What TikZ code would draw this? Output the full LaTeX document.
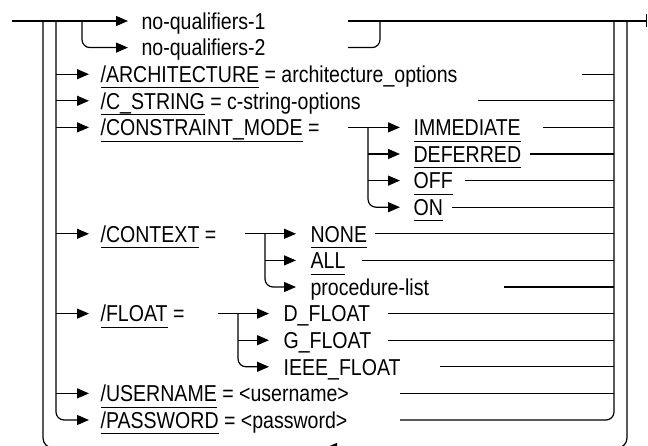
\documentclass[tikz,border=0pt]{standalone}
\usepackage{fontspec}
\setmainfont{Liberation Sans}[FakeStretch=0.85]
\usetikzlibrary{arrows.meta}
\newcommand{\kw}[1]{\sbox0{#1}\rlap{\rule[-6pt]{\wd0}{1pt}}\box0\relax}
\tikzset{
	opt/.style={anchor=west, inner sep=0pt, text height=16.5pt, text depth=0pt, font=\fontsize{23}{27}\selectfont},
}
\begin{document}
\begin{tikzpicture}[x=1pt, y=-1pt, line width=1.2pt, >={Triangle[length=12pt,width=10pt]}]
				\clip (0,0) rectangle (648,446);
				\coordinate (li) at (56,21);
				\coordinate (ri) at (614,21);
				% the qualifiers
				\node[opt] (nqa) at (141,21) {no-qualifiers-1};
				\node[opt] (nqb) at (141,47.6) {no-qualifiers-2};
				\node[opt] (arch) at (100,74.2) {\kw{/ARCHITECTURE} = architecture\_options};
				\node[opt] (cstr) at (100,100.8) {\kw{/C\_STRING} = c-string-options};
				\node[opt] (cmode) at (100,127.4) {\kw{/CONSTRAINT\_MODE} =};
				\node[opt] (imm) at (413,127.4) {\kw{IMMEDIATE}};
				\node[opt] (defr) at (413,154) {\kw{DEFERRED}};
				\node[opt] (off) at (413,180.6) {\kw{OFF}};
				\node[opt] (on) at (413,207.2) {\kw{ON}};
				\node[opt] (ctx) at (100,233.8) {\kw{/CONTEXT} =};
				\node[opt] (none) at (310,233.8) {\kw{NONE}};
				\node[opt] (all) at (310,260.4) {\kw{ALL}};
				\node[opt] (proc) at (310,287) {procedure-list};
				\node[opt] (flt) at (100,313.6) {\kw{/FLOAT} =};
				\node[opt] (dflt) at (283,313.6) {D\_FLOAT};
				\node[opt] (gflt) at (283,340.2) {G\_FLOAT};
				\node[opt] (ieee) at (283,366.8) {IEEE\_FLOAT};
				\node[opt] (user) at (100,393.4) {\kw{/USERNAME} = <username>};
				\node[opt] (pass) at (100,420) {\kw{/PASSWORD} = <password>};
				% main line and loops
				\draw[->] (12,21) -- ([xshift=-13pt]nqa.west);
				\draw[-{Bar[width=13pt]}] (348,21) -- (647,21);
				\draw[->, rounded corners=8pt] (82,21) |- ([xshift=-13pt]nqb.west);
				\draw[rounded corners=8pt] (348,47.6) -| (380,21);
				\draw[rounded corners=10pt] (43,21) |- (627,448) -- (627,21);
				\draw[->] (350,448) -- (325,448);
				\draw[->, rounded corners=8pt] (li) |- ([xshift=-11pt]pass.west);
				\draw[rounded corners=8pt] (400,420) -| (ri);
				\foreach \n in {arch,cstr,cmode,ctx,flt,user}
					\draw[->] (li |- \n.west) -- ([xshift=-11pt]\n.west);
				\foreach \n/\x in {arch/582,cstr/478,imm/543,defr/530,off/465,on/452,none/375,all/362,proc/504,dflt/388,gflt/388,ieee/440,user/400}
					\draw (\x,0 |- \n.east) -- (ri |- \n.east);
				% sub-choices
				\coordinate (cb) at (368,127.4);
				\draw[->] (348,127.4) -- ([xshift=-13pt]imm.west);
				\draw[->, rounded corners=8pt] (cb) |- ([xshift=-13pt]on.west);
				\foreach \n in {defr,off}
					\draw[->] (cb |- \n.west) -- ([xshift=-13pt]\n.west);
				\coordinate (xb) at (265,233.8);
				\draw[->] (245,233.8) -- ([xshift=-14pt]none.west);
				\draw[->, rounded corners=8pt] (xb) |- ([xshift=-14pt]proc.west);
				\draw[->] (xb |- all.west) -- ([xshift=-14pt]all.west);
				\coordinate (fb) at (238,313.6);
				\draw[->] (218,313.6) -- ([xshift=-14pt]dflt.west);
				\draw[->, rounded corners=8pt] (fb) |- ([xshift=-14pt]ieee.west);
				\draw[->] (fb |- gflt.west) -- ([xshift=-14pt]gflt.west);
			\end{tikzpicture}
\end{document}
